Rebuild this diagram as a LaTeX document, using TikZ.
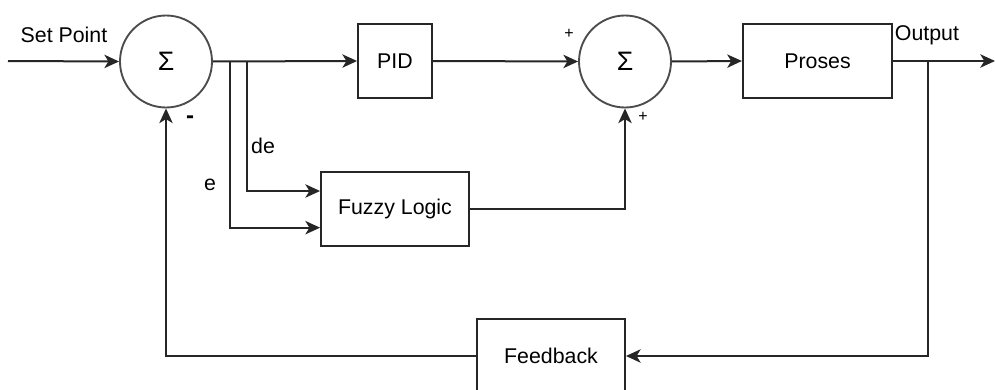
\documentclass[tikz,border=0pt]{standalone}
\usepackage{fontspec}
\setmainfont{Liberation Sans}
\usetikzlibrary{arrows.meta}
\begin{document}
\begin{tikzpicture}[x=0.75pt,y=-0.75pt,
  wire/.style={line width=1.5pt,draw=black!85},
  flow/.style={wire,-{Stealth[length=11pt,width=10pt,inset=3pt]}},
  block/.style={draw=black!85,line width=1.4pt,fill=white,font=\fontsize{16}{18}\selectfont,inner sep=0pt},
  summer/.style={circle,draw=black!70,line width=1.4pt,minimum size=69pt,inner sep=0pt,font=\fontsize{20}{22}\selectfont},
  lbl/.style={font=\fontsize{16}{18}\selectfont,inner sep=0pt},
  sgn/.style={font=\fontsize{12}{13}\selectfont,inner sep=0pt}]
\useasboundingbox[fill=white] (0,0) rectangle (995,389);

% summing junctions
\node[summer] (s1) at (166,61.5) {Σ};
\node[summer] (s2) at (625,61.5) {Σ};

% blocks
\node[block,minimum width=55.5pt,minimum height=55.5pt] (pid) at (395,61) {PID};
\node[block,minimum width=112pt,minimum height=55.5pt] (proc) at (817.5,61) {Proses};
\node[block,minimum width=111pt,minimum height=55.5pt] (fz) at (395,209) {Fuzzy Logic};
\node[block,minimum width=111pt,minimum height=55.5pt] (fb) at (551,356) {Feedback};

% helper points
\coordinate (in) at (8,61);
\coordinate (out) at (995,61);
\coordinate (be) at (230,61);
\coordinate (bde) at (247,61);
\coordinate (bo) at (928,61);

% forward path
\draw[flow] (in) -- (s1.west);
\draw[flow] (s1.east) -- (pid.west);
\draw[flow] (be) |- ([yshift=-14pt]fz.west);
\draw[flow] (bde) |- ([yshift=13.5pt]fz.west);
\draw[flow] (pid.east) -- (s2.west);
\draw[flow] (fz.east) -| (s2.south);
\draw[flow] (s2.east) -- (proc.west);
\draw[flow] (proc.east) -- (out);

% feedback path
\draw[flow] (bo) |- (fb.east);
\draw[flow] (fb.west) -| (s1.south);

% labels
\node[lbl] at (64,35) {Set Point};
\node[lbl] at (927,35) {Output};
\node[lbl] at (263,146) {de};
\node[lbl] at (210,185) {e};
\node[font=\fontsize{18}{18}\selectfont\bfseries,inner sep=0pt] at (190,120) {-};
\node[sgn] at (569,34) {+};
\node[sgn] at (643,117) {+};
\end{tikzpicture}
\end{document}
